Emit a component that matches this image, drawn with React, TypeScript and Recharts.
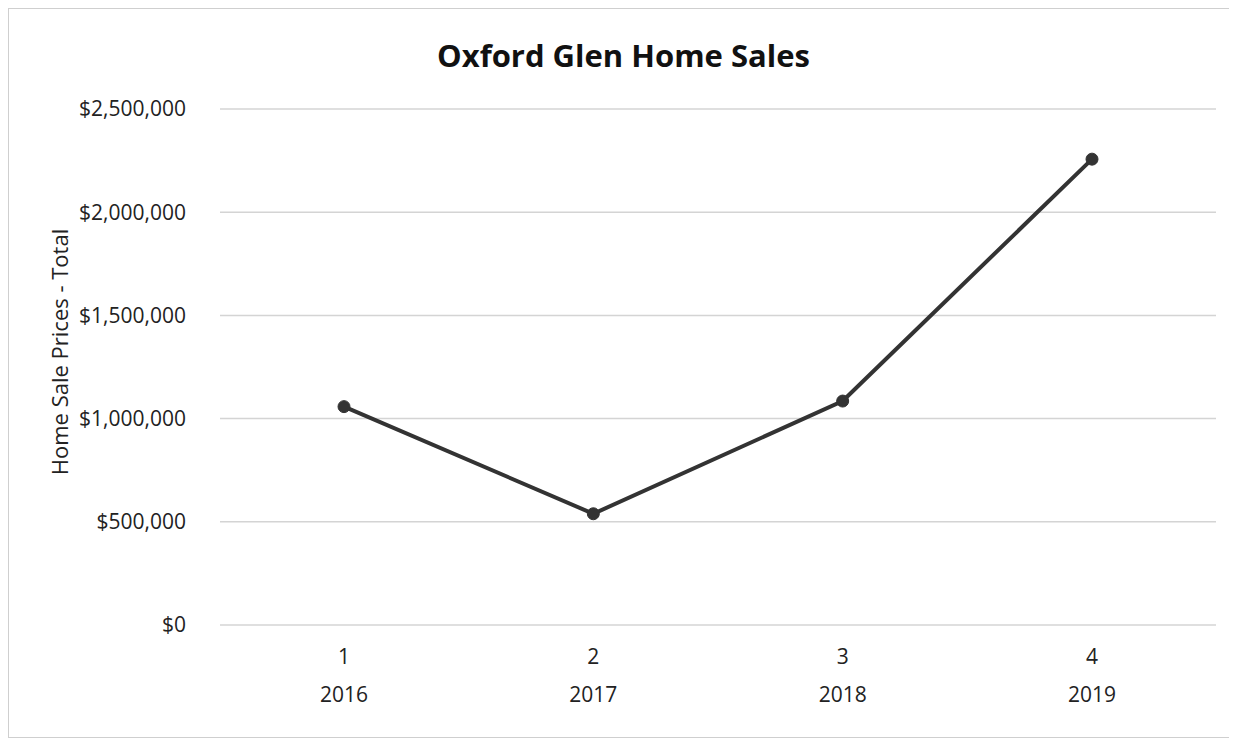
import React from 'react';
import { LineChart, Line, XAxis, YAxis, CartesianGrid } from 'recharts';

const periods = ['1', '2', '3', '4'];
const years = ['2016', '2017', '2018', '2019'];
const totals = [1058000, 539000, 1085000, 2257000];
const yTicks = [0, 500000, 1000000, 1500000, 2000000, 2500000];

const data = periods.map((p, i) => ({ period: p, year: years[i], total: totals[i] }));

const FONT = '"Open Sans", "Noto Sans", sans-serif';

const money = (v: number) => '$' + v.toLocaleString('en-US');

const TwoLevelTick = (props: any) => {
  const { x, y, payload, index } = props;
  return (
    <g>
      <text x={x} y={y + 31} textAnchor="middle" fontSize={21} fill="#222" fontFamily={FONT}>
        {payload.value}
      </text>
      <text x={x} y={y + 69} textAnchor="middle" fontSize={21} fill="#222" fontFamily={FONT}>
        {years[index]}
      </text>
    </g>
  );
};

const YLabel = (props: any) => {
  const vb = props.viewBox || {};
  const cx = 53;
  const cy = (vb.y || 0) + (vb.height || 0) / 2 - 15;
  return (
    <text
      x={cx}
      y={cy}
      transform={`rotate(-90 ${cx} ${cy})`}
      textAnchor="middle"
      dominantBaseline="middle"
      fontSize={22}
      fill="#222"
      fontFamily={FONT}
    >
      Home Sale Prices - Total
    </text>
  );
};

const App = () => {
  return (
    <div
      style={{
        position: 'relative',
        width: 1229,
        height: 730,
        border: '1px solid #cfcfcf',
        boxSizing: 'border-box',
        background: '#fff',
      }}
    >
      <div
        style={{
          position: 'absolute',
          top: 25,
          left: 0,
          width: 1229,
          textAlign: 'center',
          fontFamily: FONT,
          fontWeight: 700,
          fontSize: 31,
          color: '#111',
        }}
      >
        Oxford Glen Home Sales
      </div>
      <LineChart
        width={1229}
        height={730}
        data={data}
        margin={{ top: 100, right: 22, left: 0, bottom: 0 }}
      >
        <CartesianGrid vertical={false} stroke="#d4d4d4" strokeWidth={1.5} />
        <XAxis
          dataKey="period"
          height={114}
          axisLine={false}
          tickLine={false}
          tick={<TwoLevelTick />}
          interval={0}
          padding={{ left: 124, right: 124 }}
        />
        <YAxis
          width={211}
          domain={[0, 2500000]}
          ticks={yTicks}
          tickFormatter={money}
          axisLine={false}
          tickLine={false}
          tickMargin={28}
          tick={{ fontSize: 21, fill: '#222', fontFamily: FONT }}
          label={{ content: <YLabel /> }}
        />
        <Line
          type="linear"
          dataKey="total"
          stroke="#333333"
          strokeWidth={4}
          dot={{ r: 6, fill: '#333333', stroke: '#333333', strokeWidth: 1 }}
          isAnimationActive={false}
        />
      </LineChart>
    </div>
  );
};

export default App;
